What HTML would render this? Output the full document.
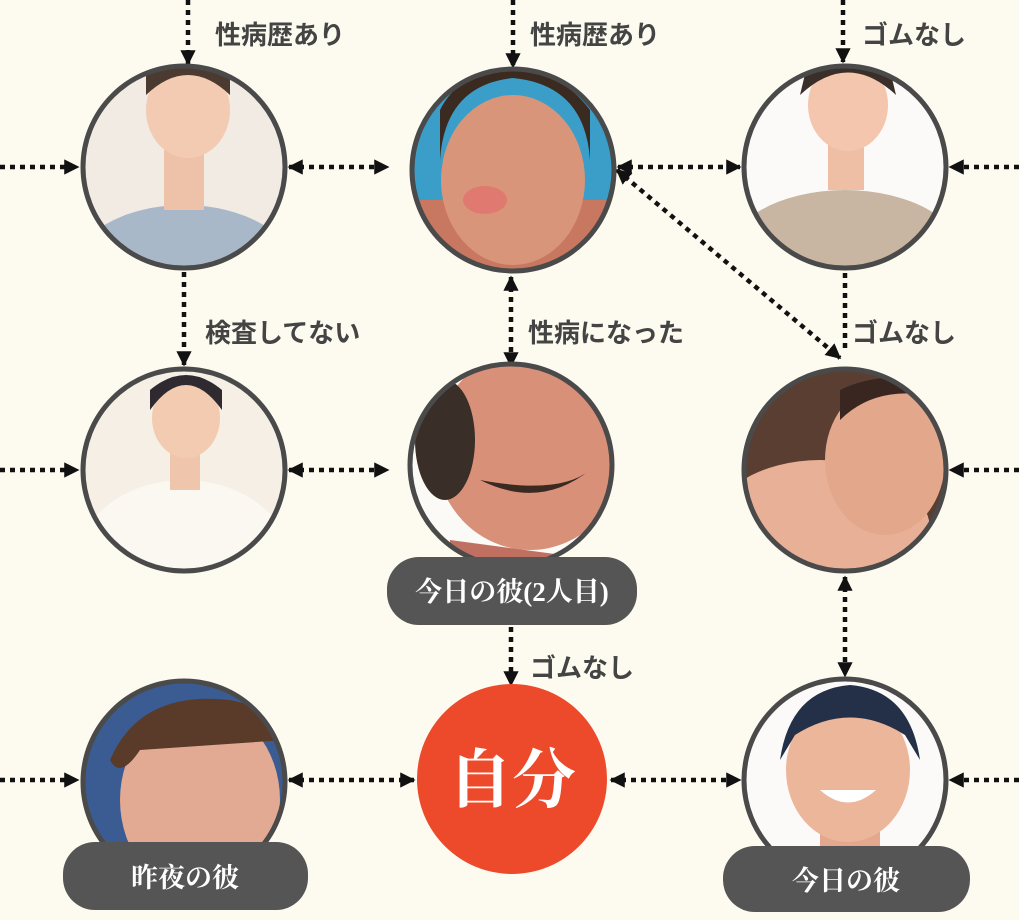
<!DOCTYPE html>
<html><head><meta charset="utf-8"><style>
html,body{margin:0;padding:0;background:#fdfbf0;}
svg{display:block}
.l{font-family:"Liberation Sans","Noto Sans CJK JP",sans-serif;font-size:26px;fill:#444;font-weight:bold}
.p{font-family:"Liberation Serif","Noto Serif CJK SC",serif;font-size:27px;fill:#fff;font-weight:bold}
</style></head><body>
<svg width="1019" height="920" viewBox="0 0 1019 920" xmlns="http://www.w3.org/2000/svg">
<defs>
<marker id="a" viewBox="0 0 10 10" refX="9" refY="5" markerWidth="3.4" markerHeight="3.4" orient="auto-start-reverse"><path d="M0,0 L10,5 L0,10 Z" fill="#111"/></marker>
<clipPath id="c1"><circle cx="184" cy="167" r="101"/></clipPath>
<clipPath id="c2"><circle cx="513" cy="170" r="101"/></clipPath>
<clipPath id="c3"><circle cx="845" cy="167" r="101"/></clipPath>
<clipPath id="c4"><circle cx="184" cy="470" r="101"/></clipPath>
<clipPath id="c5"><circle cx="511" cy="465" r="101"/></clipPath>
<clipPath id="c6"><circle cx="845" cy="470" r="101"/></clipPath>
<clipPath id="c7"><circle cx="184" cy="782" r="101"/></clipPath>
<clipPath id="c9"><circle cx="845" cy="780" r="101"/></clipPath>
</defs>
<rect width="1019" height="920" fill="#fdfbf0"/>
<g stroke="#111" stroke-width="4.5" stroke-dasharray="5 5" fill="none" marker-end="url(#a)">
<line x1="0" y1="167" x2="78" y2="167"/>
<line x1="0" y1="470" x2="78" y2="470"/>
<line x1="0" y1="780" x2="78" y2="780"/>
<line x1="1019" y1="167" x2="950" y2="167"/>
<line x1="1019" y1="470" x2="950" y2="470"/>
<line x1="1019" y1="780" x2="950" y2="780"/>
<line x1="188" y1="0" x2="188" y2="64"/>
<line x1="513" y1="0" x2="513" y2="67"/>
<line x1="843" y1="0" x2="843" y2="62"/>
<line x1="184" y1="272" x2="184" y2="365"/>
<line x1="289" y1="167" x2="388" y2="167" marker-start="url(#a)"/>
<line x1="618" y1="167" x2="740" y2="167" marker-start="url(#a)"/>
<line x1="289" y1="470" x2="388" y2="470" marker-start="url(#a)"/>
<line x1="511" y1="277" x2="511" y2="366" marker-start="url(#a)"/>
<line x1="845" y1="577" x2="845" y2="676" marker-start="url(#a)"/>
<line x1="511" y1="627" x2="511" y2="685"/>
<line x1="289" y1="780" x2="414" y2="780" marker-start="url(#a)"/>
<line x1="611" y1="780" x2="740" y2="780" marker-start="url(#a)"/>
<line x1="617" y1="170" x2="840" y2="358" marker-start="url(#a)"/>
<line x1="845" y1="273" x2="845" y2="350" marker-end="none"/>
</g>
<!-- portraits -->
<g clip-path="url(#c1)"><rect x="80" y="60" width="210" height="215" fill="#f1ebe4"/><ellipse cx="184" cy="270" rx="110" ry="65" fill="#a9b8c8"/><rect x="164" y="150" width="40" height="60" fill="#eec2a8"/><ellipse cx="188" cy="110" rx="42" ry="48" fill="#f2cbb2"/><path d="M146,95 Q188,55 230,95 L230,75 Q188,50 146,75Z" fill="#4a3a30"/></g>
<g clip-path="url(#c2)"><rect x="405" y="65" width="215" height="215" fill="#3a9ec8"/><rect x="405" y="200" width="215" height="80" fill="#c87860"/><ellipse cx="513" cy="180" rx="72" ry="85" fill="#d9957a"/><path d="M440,160 Q445,85 513,78 Q585,85 590,160 L590,110 Q560,70 513,70 Q460,70 440,110Z" fill="#3a2a20"/><ellipse cx="485" cy="200" rx="22" ry="14" fill="#e07a70"/></g>
<g clip-path="url(#c3)"><rect x="740" y="60" width="210" height="215" fill="#fbfaf8"/><ellipse cx="845" cy="260" rx="120" ry="70" fill="#c9b6a2"/><rect x="828" y="140" width="36" height="50" fill="#efbfa5"/><ellipse cx="848" cy="105" rx="40" ry="46" fill="#f3c6ad"/><path d="M800,95 Q848,50 896,95 L890,70 Q848,50 806,70Z" fill="#3a2e28"/></g>
<g clip-path="url(#c4)"><rect x="80" y="365" width="210" height="215" fill="#f6efe5"/><ellipse cx="184" cy="570" rx="110" ry="90" fill="#fbf8f2"/><rect x="170" y="440" width="30" height="50" fill="#efc6ac"/><ellipse cx="186" cy="418" rx="34" ry="40" fill="#f3cbb1"/><path d="M150,410 Q186,360 222,410 L222,390 Q186,360 150,390Z" fill="#2e2a30"/></g>
<g clip-path="url(#c5)"><rect x="405" y="360" width="215" height="210" fill="#fcfaf6"/><ellipse cx="530" cy="450" rx="95" ry="100" fill="#d99078"/><path d="M450,540 L600,560 L600,580 L450,580Z" fill="#c07060"/><path d="M480,480 Q540,510 590,470 Q560,495 480,480Z" fill="#3a2a22"/><ellipse cx="445" cy="440" rx="30" ry="60" fill="#3a2e28"/></g>
<g clip-path="url(#c6)"><rect x="740" y="365" width="210" height="215" fill="#5a3e32"/><ellipse cx="820" cy="530" rx="110" ry="70" fill="#e8b096"/><ellipse cx="885" cy="460" rx="60" ry="75" fill="#e3a88c"/><path d="M840,420 Q880,380 950,400 L950,380 Q880,370 840,390Z" fill="#3a2620"/></g>
<g clip-path="url(#c7)"><rect x="80" y="678" width="210" height="210" fill="#3b5c92"/><ellipse cx="200" cy="800" rx="80" ry="95" fill="#e2aa92"/><path d="M110,760 Q140,690 230,700 Q280,710 285,740 L140,750 Q120,780 110,760Z" fill="#5a3a28"/></g>
<g clip-path="url(#c9)"><rect x="740" y="675" width="210" height="210" fill="#fbfaf8"/><rect x="820" y="820" width="60" height="70" fill="#e3a88e"/><ellipse cx="848" cy="770" rx="62" ry="72" fill="#ecb69b"/><path d="M780,760 Q790,690 850,685 Q910,690 920,760 L905,735 Q850,700 795,735Z" fill="#233048"/><path d="M820,790 Q848,815 876,790Z" fill="#fff"/></g>
<g fill="none" stroke="#4a4a4a" stroke-width="5">
<circle cx="184" cy="167" r="101"/><circle cx="513" cy="170" r="101"/><circle cx="845" cy="167" r="101"/>
<circle cx="184" cy="470" r="101"/><circle cx="511" cy="465" r="101"/><circle cx="845" cy="470" r="101"/>
<circle cx="184" cy="782" r="101"/><circle cx="845" cy="780" r="101"/>
</g>
<circle cx="512" cy="779" r="95" fill="#ec4a2a"/>
<text x="512" y="802" text-anchor="middle" font-family="Liberation Serif,'Noto Serif CJK SC',serif" font-size="64" font-weight="bold" fill="#fff">自分</text>
<rect x="387" y="557" width="250" height="68" rx="32" fill="#555"/>
<text class="p" x="512" y="601" text-anchor="middle">今日の彼(2人目)</text>
<rect x="63" y="842" width="245" height="68" rx="32" fill="#555"/>
<text class="p" x="185" y="887" text-anchor="middle">昨夜の彼</text>
<rect x="723" y="846" width="247" height="66" rx="32" fill="#555"/>
<text class="p" x="846" y="890" text-anchor="middle">今日の彼</text>
<text class="l" x="215" y="44">性病歴あり</text>
<text class="l" x="530" y="44">性病歴あり</text>
<text class="l" x="862" y="44">ゴムなし</text>
<text class="l" x="205" y="342">検査してない</text>
<text class="l" x="528" y="342">性病になった</text>
<text class="l" x="852" y="342">ゴムなし</text>
<text class="l" x="530" y="677">ゴムなし</text>
</svg>
</body></html>
